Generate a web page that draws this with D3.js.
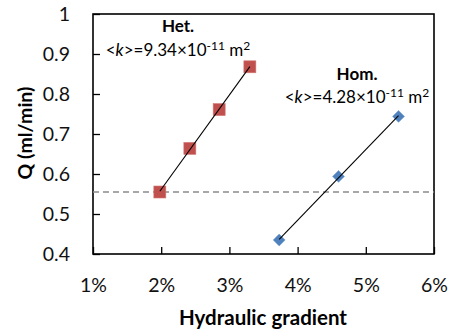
<!DOCTYPE html>
<html>
<head>
<meta charset="utf-8">
<script src="https://cdn.jsdelivr.net/npm/d3@7"></script>
<style>
  html, body { margin: 0; padding: 0; background: #fff; }
  svg { display: block; font-family: Lato, "Open Sans", sans-serif; }
</style>
</head>
<body>
<svg id="chart" width="449" height="331"></svg>
<script>
// Hydraulic gradient (%) vs. flow rate Q (ml/min)
const hetGradient = [1.98, 2.42, 2.85, 3.30];
const hetQ = [0.555, 0.664, 0.761, 0.868];
const homGradient = [3.73, 4.60, 5.48];
const homQ = [0.435, 0.594, 0.744];
const referenceQ = 0.555;
const xTicks = [1, 2, 3, 4, 5, 6];
const yTicks = [0.4, 0.5, 0.6, 0.7, 0.8, 0.9, 1];

const svg = d3.select("#chart");
const m = { left: 93, top: 14, right: 434, bottom: 254 };

const x = d3.scaleLinear().domain([1, 6]).range([m.left, m.right]);
const y = d3.scaleLinear().domain([0.4, 1]).range([m.bottom, m.top]);

// axes with inward ticks
const xAxis = d3.axisBottom(x).tickValues(xTicks).tickSize(-7).tickSizeOuter(0)
  .tickFormat(d => d + "%").tickPadding(24);
const yAxis = d3.axisLeft(y).tickValues(yTicks).tickSize(-7).tickSizeOuter(0)
  .tickFormat(d => d === 1 ? "1" : d3.format(".1f")(d)).tickPadding(23);

const gx = svg.append("g").attr("transform", `translate(0,${m.bottom})`).call(xAxis);
const gy = svg.append("g").attr("transform", `translate(${m.left},0)`).call(yAxis);
[gx, gy].forEach(g => {
  g.select(".domain").remove();
  g.selectAll(".tick line").attr("stroke", "#000").attr("stroke-width", 1.3);
  g.selectAll(".tick text").attr("fill", "#111").style("font-size", "19.5px")
    .style("font-family", "Lato, sans-serif");
});

// plot frame
svg.append("rect")
  .attr("x", m.left).attr("y", m.top)
  .attr("width", m.right - m.left).attr("height", m.bottom - m.top)
  .attr("fill", "none").attr("stroke", "#000").attr("stroke-width", 1.6);

// reference level
svg.append("line")
  .attr("x1", m.left).attr("x2", m.right)
  .attr("y1", y(referenceQ)).attr("y2", y(referenceQ))
  .attr("stroke", "#8a8a8a").attr("stroke-width", 1.6)
  .attr("stroke-dasharray", "6,4");

// least-squares trend line over the range of each series
function trend(xs, ys) {
  const n = xs.length, mx = d3.mean(xs), my = d3.mean(ys);
  let sxy = 0, sxx = 0;
  for (let i = 0; i < n; i++) { sxy += (xs[i] - mx) * (ys[i] - my); sxx += (xs[i] - mx) ** 2; }
  const b = sxy / sxx, a = my - b * mx;
  const x0 = d3.min(xs), x1 = d3.max(xs);
  return [[x0, a + b * x0], [x1, a + b * x1]];
}

const hetPts = hetGradient.map((g, i) => [g, hetQ[i]]);
const homPts = homGradient.map((g, i) => [g, homQ[i]]);

// markers
svg.append("g").selectAll("rect").data(hetPts).join("rect")
  .attr("x", d => x(d[0]) - 6).attr("y", d => y(d[1]) - 6)
  .attr("width", 12).attr("height", 12)
  .attr("fill", "#c0504d").attr("stroke", "#d27a77").attr("stroke-width", 0.6);

svg.append("g").selectAll("path").data(homPts).join("path")
  .attr("transform", d => `translate(${x(d[0])},${y(d[1])})`)
  .attr("d", d3.symbol(d3.symbolDiamond2, 90))
  .attr("fill", "#4f81bd").attr("stroke", "#6f99cc").attr("stroke-width", 0.6);

const line = d3.line().x(d => x(d[0])).y(d => y(d[1]));
[hetPts, homPts].forEach(pts => {
  svg.append("path").attr("d", line(trend(pts.map(p => p[0]), pts.map(p => p[1]))))
    .attr("stroke", "#000").attr("stroke-width", 1.1).attr("fill", "none");
});

// annotations
function kLabel(cx, cy, value) {
  const t = svg.append("text").attr("x", cx).attr("y", cy)
    .attr("text-anchor", "middle").style("font-size", "17px").attr("fill", "#000");
  t.append("tspan").text("<");
  t.append("tspan").attr("font-style", "italic").text("k");
  t.append("tspan").text(">=" + value + "×10");
  t.append("tspan").attr("dy", -6).style("font-size", "12px").text("-11");
  t.append("tspan").attr("dy", 6).text(" m");
  t.append("tspan").attr("dy", -6).style("font-size", "12px").text("2");
}
svg.append("text").attr("x", 178).attr("y", 32).attr("text-anchor", "middle")
  .style("font-size", "17px").style("font-weight", "bold").text("Het.");
kLabel(178, 56, "9.34");
svg.append("text").attr("x", 357).attr("y", 80).attr("text-anchor", "middle")
  .style("font-size", "17px").style("font-weight", "bold").text("Hom.");
kLabel(357, 103, "4.28");

// axis titles
svg.append("text").attr("x", 263).attr("y", 325).attr("text-anchor", "middle")
  .style("font-size", "20.5px").style("font-weight", "bold").text("Hydraulic gradient");
svg.append("text").attr("transform", "translate(32,133) rotate(-90)")
  .attr("text-anchor", "middle")
  .style("font-size", "19.5px").style("font-weight", "bold").text("Q (ml/min)");
</script>
</body>
</html>
